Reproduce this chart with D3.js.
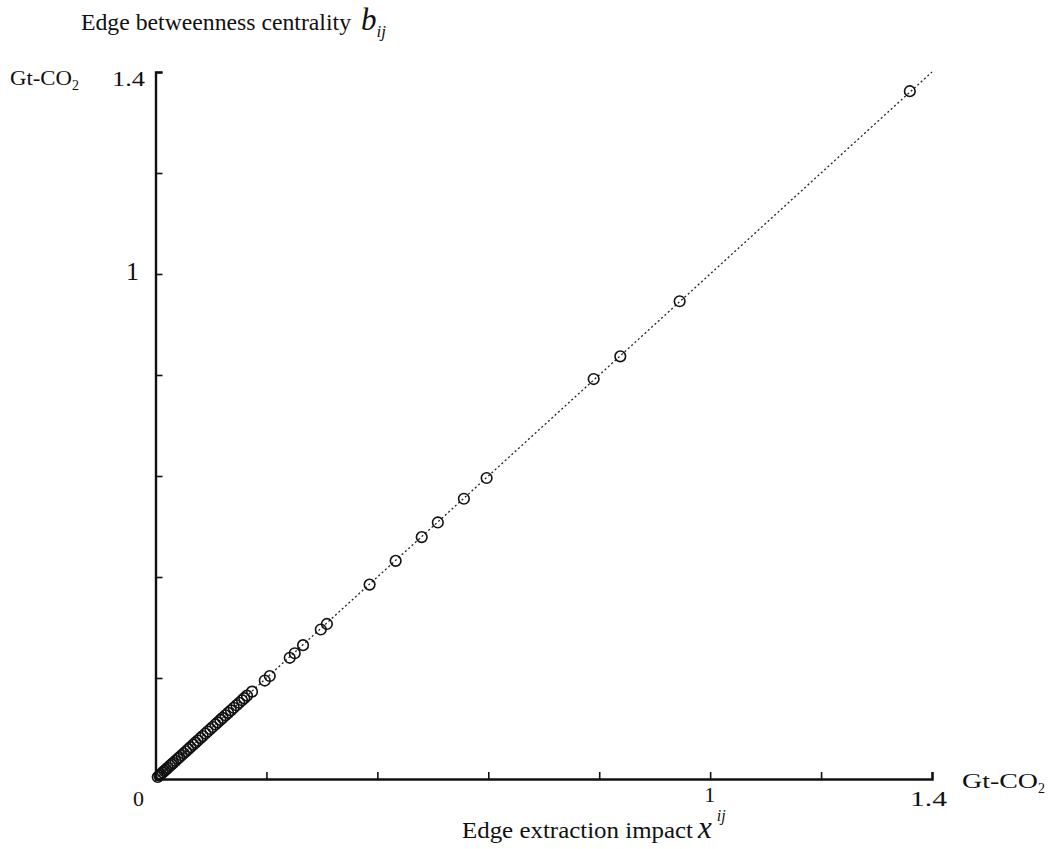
<!DOCTYPE html>
<html>
<head>
<meta charset="utf-8">
<script src="https://cdn.jsdelivr.net/npm/d3@7"></script>
<style>
  body { margin: 0; background: #fff; }
  svg text { font-family: "Liberation Serif", "DejaVu Serif", serif; fill: #111; }
</style>
</head>
<body>
<div id="chart"></div>
<script>
// edge extraction impact x^ij (Gt-CO2)
var impactX = [
  0.004, 0.007, 0.010, 0.013, 0.016, 0.019, 0.022, 0.026, 0.029, 0.032,
  0.036, 0.040, 0.043, 0.047, 0.051, 0.055, 0.059, 0.063, 0.068, 0.072,
  0.076, 0.081, 0.085, 0.090, 0.094, 0.099, 0.103, 0.108, 0.112, 0.117,
  0.121, 0.126, 0.131, 0.136, 0.141, 0.146, 0.151, 0.156, 0.160, 0.165,
  0.174, 0.197, 0.206, 0.242, 0.251, 0.266, 0.298, 0.309,
  0.386, 0.433, 0.480, 0.509, 0.556, 0.597,
  0.790, 0.838, 0.945, 1.360
];
// edge betweenness centrality b_ij (Gt-CO2)
var betweennessY = [
  0.004, 0.007, 0.010, 0.013, 0.016, 0.019, 0.022, 0.026, 0.029, 0.032,
  0.036, 0.040, 0.043, 0.047, 0.051, 0.055, 0.059, 0.063, 0.068, 0.072,
  0.076, 0.081, 0.085, 0.090, 0.094, 0.099, 0.103, 0.108, 0.112, 0.117,
  0.121, 0.126, 0.131, 0.136, 0.141, 0.146, 0.151, 0.156, 0.160, 0.165,
  0.173, 0.195, 0.204, 0.240, 0.249, 0.265, 0.296, 0.307,
  0.385, 0.432, 0.479, 0.508, 0.555, 0.596,
  0.792, 0.837, 0.946, 1.362
];
var xTicks = [0.2, 0.4, 0.6, 0.8, 1, 1.2, 1.4];
var yTicks = [0.2, 0.4, 0.6, 0.8, 1, 1.2, 1.4];

var width = 1053, height = 849;
var x0 = 155.5, x1 = 932, y0 = 779, y1 = 72;

var svg = d3.select("#chart").append("svg")
  .attr("width", width)
  .attr("height", height);

var x = d3.scaleLinear().domain([0, 1.4]).range([x0, x1]);
var y = d3.scaleLinear().domain([0, 1.4]).range([y0, y1]);

// y = x reference line (dotted)
svg.append("line")
  .attr("x1", x(0)).attr("y1", y(0))
  .attr("x2", x(1.4)).attr("y2", y(1.4))
  .attr("stroke", "#222")
  .attr("stroke-width", 1.3)
  .attr("stroke-dasharray", "2,2.5");

// axes, ticks pointing inside
var xAxis = svg.append("g")
  .attr("transform", "translate(0," + y0 + ")")
  .call(d3.axisTop(x).tickValues(xTicks).tickSize(7).tickFormat(""));
var yAxis = svg.append("g")
  .attr("transform", "translate(" + x0 + ",0)")
  .call(d3.axisRight(y).tickValues(yTicks).tickSize(7).tickFormat(""));

[xAxis, yAxis].forEach(function(a){
  a.select(".domain").attr("stroke", "#111").attr("stroke-width", 2.4);
  a.selectAll(".tick line").attr("stroke", "#111").attr("stroke-width", 1.6);
});

// tick labels
function label(txt, xp, yp, size, len){
  var t = svg.append("text")
    .attr("x", xp).attr("y", yp)
    .style("font-size", size + "px")
    .text(txt);
  if (len) t.attr("textLength", len).attr("lengthAdjust", "spacingAndGlyphs");
  return t;
}
label("1.4", 112, 86, 22, 33);
label("1", 126, y(1) + 6, 26);
label("0", 133, 806, 22);
label("1", x(1) - 6, 802, 22);
label("1.4", 910, 806, 22, 37);

// unit labels
function unit(xp, yp, len){
  var t = svg.append("text").attr("x", xp).attr("y", yp).style("font-size", "21px");
  t.append("tspan").attr("textLength", len).attr("lengthAdjust", "spacingAndGlyphs").text("Gt-CO");
  t.append("tspan").attr("dy", 5).style("font-size", "14px").text("2");
}
unit(10, 85, 62);
unit(962, 788, 76);

// axis titles
var yt = svg.append("text").attr("x", 81).attr("y", 30).style("font-size", "24px");
yt.append("tspan").attr("textLength", 270).attr("lengthAdjust", "spacingAndGlyphs")
  .text("Edge betweenness centrality");
yt.append("tspan").attr("dx", 10).style("font-style", "italic").style("font-size", "31px").text("b");
yt.append("tspan").attr("dy", 7).style("font-style", "italic").style("font-size", "17px").text("ij");

var xt = svg.append("text").attr("x", 462).attr("y", 838).style("font-size", "24px");
xt.append("tspan").attr("textLength", 231).attr("lengthAdjust", "spacingAndGlyphs")
  .text("Edge extraction impact");
xt.append("tspan").attr("dx", 5).style("font-style", "italic").style("font-size", "31px").text("x");
xt.append("tspan").attr("dx", 5).attr("dy", -17).style("font-style", "italic").style("font-size", "16px").text("ij");

// points
svg.selectAll(".pt")
  .data(impactX.map(function(v, i){ return {x: v, y: betweennessY[i]}; }))
  .enter().append("circle")
  .attr("class", "pt")
  .attr("cx", function(d){ return x(d.x); })
  .attr("cy", function(d){ return y(d.y); })
  .attr("r", 5.3)
  .attr("fill", "none")
  .attr("stroke", "#111")
  .attr("stroke-width", 1.6);
</script>
</body>
</html>
